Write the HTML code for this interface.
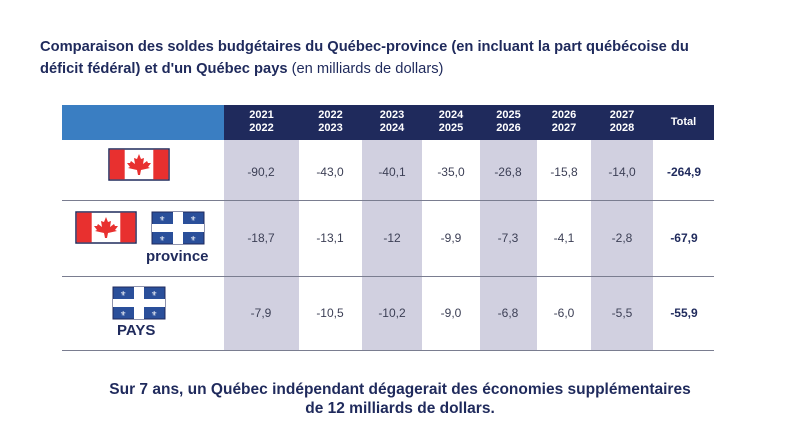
<!DOCTYPE html><html><head><meta charset="utf-8"><style>
body{margin:0;width:800px;height:446px;background:#fff;font-family:"Liberation Sans",sans-serif;color:#1f2a5c;position:relative;overflow:hidden}
.a{position:absolute}
.t{left:40px;top:36px;font-size:14.7px;font-weight:bold;line-height:22px;width:720px;white-space:nowrap}
.t span{font-weight:normal}
.sh{background:#d1d0e0;top:140px;height:210px}
.hd{top:105px;height:35px;background:#1f2a5c}
.h{top:109px;color:#fff;font-size:11px;font-weight:bold;text-align:center;line-height:13px}
.v{font-size:12px;color:#3c3f55;text-align:center;width:70px;margin-left:-35px}
.b{font-weight:bold;color:#1f2a5c}
.ln{left:62px;width:652px;height:1px;background:#7a7d90}
.bt{left:0;width:800px;text-align:center;top:380px;font-size:15.5px;font-weight:bold;line-height:19px}
</style></head><body>
<div class="a t">Comparaison des soldes budgétaires du Québec-province (en incluant la part québécoise du<br>déficit fédéral) et d'un Québec pays <span>(en milliards de dollars)</span></div>
<div class="a" style="left:62px;top:105px;width:162px;height:35px;background:#3a7ec2"></div>
<div class="a hd" style="left:224px;width:490px"></div>
<div class="a sh" style="left:224px;width:75px"></div>
<div class="a sh" style="left:362px;width:60px"></div>
<div class="a sh" style="left:480px;width:57px"></div>
<div class="a sh" style="left:591px;width:62px"></div>
<div class="a ln" style="top:200px"></div>
<div class="a ln" style="top:276px"></div>
<div class="a ln" style="top:350px"></div>
<div class="a h" style="left:224px;width:75px">2021<br>2022</div>
<div class="a h" style="left:299px;width:63px">2022<br>2023</div>
<div class="a h" style="left:362px;width:60px">2023<br>2024</div>
<div class="a h" style="left:422px;width:58px">2024<br>2025</div>
<div class="a h" style="left:480px;width:57px">2025<br>2026</div>
<div class="a h" style="left:537px;width:54px">2026<br>2027</div>
<div class="a h" style="left:591px;width:62px">2027<br>2028</div>
<div class="a h" style="left:653px;width:61px;top:116px">Total</div>

<svg class="a" style="left:0;top:0" width="800" height="446">
<defs>
<g id="ca"><rect x="0" y="0" width="60" height="31" fill="#fff" stroke="#1f2a5c" stroke-width="1.5"/><rect x="0.7" y="0.7" width="15" height="29.6" fill="#e8302f"/><rect x="44.3" y="0.7" width="15" height="29.6" fill="#e8302f"/><path d="M30 5 L32 10 L35 9 L34 15 L38 12 L39 14 L42 14 L39 18 L41 19 L32 21 L31 26 L29 26 L28 21 L19 19 L21 18 L18 14 L21 14 L22 12 L26 15 L25 9 L28 10Z" fill="#e8302f"/></g>
<g id="qc"><rect x="0" y="0" width="52" height="32" fill="#2a4f9a" stroke="#1f2a5c" stroke-width="1"/><rect x="21" y="0" width="10" height="32" fill="#fff"/><rect x="0" y="12" width="52" height="8" fill="#fff"/><g fill="#fff" font-size="7" font-family="DejaVu Sans"><text x="7" y="9">⚜</text><text x="38" y="9">⚜</text><text x="7" y="29">⚜</text><text x="38" y="29">⚜</text></g></g>
</defs>
<use href="#ca" x="109" y="149"/>
<use href="#ca" x="76" y="212"/>
<use href="#qc" x="152" y="212"/>
<use href="#qc" x="113" y="287"/>
</svg>
<div class="a" style="left:146px;top:248px;font-size:15px;font-weight:bold">province</div>
<div class="a" style="left:117px;top:322px;font-size:15px;font-weight:bold">PAYS</div>

<div class="a v" style="left:261px;top:165px">-90,2</div>
<div class="a v" style="left:330px;top:165px">-43,0</div>
<div class="a v" style="left:392px;top:165px">-40,1</div>
<div class="a v" style="left:451px;top:165px">-35,0</div>
<div class="a v" style="left:508px;top:165px">-26,8</div>
<div class="a v" style="left:564px;top:165px">-15,8</div>
<div class="a v" style="left:622px;top:165px">-14,0</div>
<div class="a v b" style="left:684px;top:165px">-264,9</div>

<div class="a v" style="left:261px;top:231px">-18,7</div>
<div class="a v" style="left:330px;top:231px">-13,1</div>
<div class="a v" style="left:392px;top:231px">-12</div>
<div class="a v" style="left:451px;top:231px">-9,9</div>
<div class="a v" style="left:508px;top:231px">-7,3</div>
<div class="a v" style="left:564px;top:231px">-4,1</div>
<div class="a v" style="left:622px;top:231px">-2,8</div>
<div class="a v b" style="left:684px;top:231px">-67,9</div>

<div class="a v" style="left:261px;top:306px">-7,9</div>
<div class="a v" style="left:330px;top:306px">-10,5</div>
<div class="a v" style="left:392px;top:306px">-10,2</div>
<div class="a v" style="left:451px;top:306px">-9,0</div>
<div class="a v" style="left:508px;top:306px">-6,8</div>
<div class="a v" style="left:564px;top:306px">-6,0</div>
<div class="a v" style="left:622px;top:306px">-5,5</div>
<div class="a v b" style="left:684px;top:306px">-55,9</div>

<div class="a bt">Sur 7 ans, un Québec indépendant dégagerait des économies supplémentaires<br>de 12 milliards de dollars.</div>
</body></html>
